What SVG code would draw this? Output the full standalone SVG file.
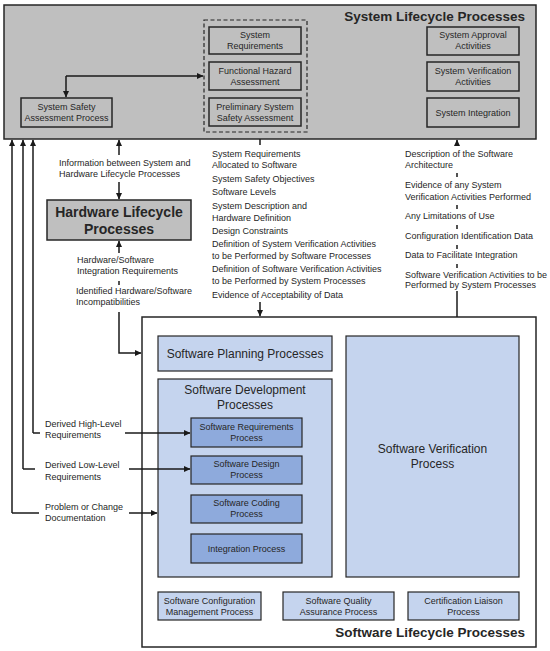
<svg xmlns="http://www.w3.org/2000/svg" width="550" height="651" viewBox="0 0 550 651">
<style>
text{font-family:"Liberation Sans",Arial,sans-serif;fill:#262626}
.s9{font-size:9px}
.s12{font-size:12px}
.c{text-anchor:middle}
.t{font-size:13.5px;font-weight:bold;text-anchor:end}
.gray{fill:#bfbfbf;stroke:#262626;stroke-width:1.5}
.lb{fill:#c5d4ee;stroke:#262626;stroke-width:1.2}
.db{fill:#8eaadc;stroke:#262626;stroke-width:1.2}
.wb{fill:#ffffff;stroke:#262626;stroke-width:1.5}
.ln{fill:none;stroke:#1a1a1a;stroke-width:1.5}
.ar{fill:none;stroke:#1a1a1a;stroke-width:1.5;marker-end:url(#ah)}
</style>
<defs>
<marker id="ah" markerUnits="userSpaceOnUse" markerWidth="7" markerHeight="7" refX="6" refY="3.5" orient="auto">
<path d="M0,0.5 L6.5,3.5 L0,6.5 Z" fill="#1a1a1a"/>
</marker>
</defs>
<rect width="550" height="651" fill="#ffffff"/>

<g id="system-lifecycle">
<rect class="gray" x="4" y="5" width="532" height="134"/>
<text class="t" x="525" y="21">System Lifecycle Processes</text>
<rect x="204" y="20" width="103" height="112" fill="none" stroke="#262626" stroke-width="1.2" stroke-dasharray="4,2.5"/>
</g>
<g id="system-requirements">
<rect class="gray" x="209" y="27" width="92" height="27" stroke-width="1.2"/>
<text class="s9 c" x="255" y="38">System</text>
<text class="s9 c" x="255" y="49">Requirements</text>
</g>
<g id="functional-hazard">
<rect class="gray" x="209" y="62" width="92" height="28" stroke-width="1.2"/>
<text class="s9 c" x="255" y="74">Functional Hazard</text>
<text class="s9 c" x="255" y="85">Assessment</text>
</g>
<g id="preliminary-ssa">
<rect class="gray" x="209" y="98" width="92" height="28" stroke-width="1.2"/>
<text class="s9 c" x="255" y="110">Preliminary System</text>
<text class="s9 c" x="255" y="121">Safety Assessment</text>
</g>
<g id="ssa-process">
<rect class="gray" x="21" y="98" width="91" height="29" stroke-width="1.2"/>
<text class="s9 c" x="66.5" y="110">System Safety</text>
<text class="s9 c" x="66.5" y="121">Assessment Process</text>
</g>
<g id="system-approval">
<rect class="gray" x="427" y="27" width="92" height="28" stroke-width="1.2"/>
<text class="s9 c" x="473" y="38">System Approval</text>
<text class="s9 c" x="473" y="49">Activities</text>
</g>
<g id="system-verification">
<rect class="gray" x="427" y="62" width="92" height="29" stroke-width="1.2"/>
<text class="s9 c" x="473" y="74">System Verification</text>
<text class="s9 c" x="473" y="85">Activities</text>
</g>
<g id="system-integration">
<rect class="gray" x="427" y="98" width="92" height="29" stroke-width="1.2"/>
<text class="s9 c" x="473" y="116">System Integration</text>
</g>

<g id="hardware-lifecycle">
<rect class="gray" x="47" y="200" width="144" height="40"/>
<text x="119" y="217" font-size="14" font-weight="bold" text-anchor="middle">Hardware Lifecycle</text>
<text x="119" y="234" font-size="14" font-weight="bold" text-anchor="middle">Processes</text>
</g>

<g id="software-lifecycle">
<rect class="wb" x="142" y="317" width="394" height="330"/>
<text class="t" x="525" y="637">Software Lifecycle Processes</text>
</g>
<g id="sw-planning">
<rect class="lb" x="158" y="336" width="174" height="35"/>
<text class="s12 c" x="245" y="358">Software Planning Processes</text>
</g>
<g id="sw-development">
<rect class="lb" x="158" y="379" width="174" height="198"/>
<text class="s12 c" x="245" y="394">Software Development</text>
<text class="s12 c" x="245" y="409">Processes</text>
</g>
<g id="sw-requirements">
<rect class="db" x="191" y="418" width="111" height="29"/>
<text class="s9 c" x="246.5" y="430">Software Requirements</text>
<text class="s9 c" x="246.5" y="441">Process</text>
</g>
<g id="sw-design">
<rect class="db" x="191" y="456" width="111" height="28"/>
<text class="s9 c" x="246.5" y="467">Software Design</text>
<text class="s9 c" x="246.5" y="478">Process</text>
</g>
<g id="sw-coding">
<rect class="db" x="191" y="495" width="111" height="28"/>
<text class="s9 c" x="246.5" y="506">Software Coding</text>
<text class="s9 c" x="246.5" y="517">Process</text>
</g>
<g id="integration">
<rect class="db" x="191" y="534" width="111" height="29"/>
<text class="s9 c" x="246.5" y="552">Integration Process</text>
</g>
<g id="sw-verification">
<rect class="lb" x="346" y="336" width="173" height="241"/>
<text class="s12 c" x="432.5" y="453">Software Verification</text>
<text class="s12 c" x="432.5" y="468">Process</text>
</g>
<g id="sw-config">
<rect class="lb" x="158" y="592" width="103" height="28"/>
<text class="s9 c" x="209.5" y="604">Software Configuration</text>
<text class="s9 c" x="209.5" y="615">Management Process</text>
</g>
<g id="sw-quality">
<rect class="lb" x="283" y="592" width="111" height="28"/>
<text class="s9 c" x="338.5" y="604">Software Quality</text>
<text class="s9 c" x="338.5" y="615">Assurance Process</text>
</g>
<g id="cert-liaison">
<rect class="lb" x="408" y="592" width="111" height="28"/>
<text class="s9 c" x="463.5" y="604">Certification Liaison</text>
<text class="s9 c" x="463.5" y="615">Process</text>
</g>

<g id="connectors">
<path class="ar" d="M66,76 L66,97"/>
<path class="ar" d="M66,76 L203,76"/>
<path class="ar" d="M119,155 L119,140"/>
<path class="ar" d="M119,182 L119,199"/>
<path class="ar" d="M119,253 L119,241"/>
<path class="ln" d="M119,281 L119,285"/>
<path class="ar" d="M119,312 L119,353 L141,353"/>
<path class="ln" d="M260,139 L260,145"/>
<path class="ar" d="M260,302 L260,316"/>
<path class="ar" d="M457,145 L457,140"/>
<path class="ln" d="M457,173 L457,177 M457,205 L457,209 M457,225 L457,229 M457,245 L457,249 M457,264 L457,268"/>
<path class="ln" d="M457,291 L457,317"/>
<path class="ar" d="M33,433 L33,140"/>
<path class="ln" d="M33,433 L40,433"/>
<path class="ar" d="M125,433 L190,433"/>
<path class="ar" d="M23,469 L23,140"/>
<path class="ln" d="M23,469 L35,469"/>
<path class="ar" d="M129,469 L190,469"/>
<path class="ar" d="M12,513 L12,140"/>
<path class="ln" d="M12,513 L39,513"/>
<path class="ar" d="M129,513 L157,513"/>
</g>

<g id="labels">
<text class="s9" x="59" y="166">Information between System and</text>
<text class="s9" x="59" y="177">Hardware Lifecycle Processes</text>
<text class="s9" x="77" y="263">Hardware/Software</text>
<text class="s9" x="77" y="274">Integration Requirements</text>
<text class="s9" x="76" y="294">Identified Hardware/Software</text>
<text class="s9" x="76" y="305">Incompatibilities</text>

<text class="s9" x="212" y="157">System Requirements</text>
<text class="s9" x="212" y="168">Allocated to Software</text>
<text class="s9" x="212" y="182">System Safety  Objectives</text>
<text class="s9" x="212" y="195">Software Levels</text>
<text class="s9" x="212" y="209">System Description and</text>
<text class="s9" x="212" y="221">Hardware Definition</text>
<text class="s9" x="212" y="234">Design Constraints</text>
<text class="s9" x="212" y="247">Definition of System Verification Activities</text>
<text class="s9" x="212" y="259">to be Performed by Software Processes</text>
<text class="s9" x="212" y="272">Definition of Software Verification Activities</text>
<text class="s9" x="212" y="284">to be Performed by System Processes</text>
<text class="s9" x="212" y="298">Evidence of Acceptability of Data</text>

<text class="s9" x="405" y="157">Description of the Software</text>
<text class="s9" x="405" y="168">Architecture</text>
<text class="s9" x="405" y="188">Evidence of any System</text>
<text class="s9" x="405" y="200">Verification Activities Performed</text>
<text class="s9" x="405" y="219">Any Limitations of Use</text>
<text class="s9" x="405" y="239">Configuration Identification Data</text>
<text class="s9" x="405" y="258">Data to Facilitate Integration</text>
<text class="s9" x="405" y="278">Software Verification Activities to be</text>
<text class="s9" x="405" y="288">Performed by System Processes</text>

<text class="s9" x="45" y="427">Derived High-Level</text>
<text class="s9" x="45" y="438">Requirements</text>
<text class="s9" x="45" y="468">Derived Low-Level</text>
<text class="s9" x="45" y="480">Requirements</text>
<text class="s9" x="45" y="510">Problem or Change</text>
<text class="s9" x="45" y="521">Documentation</text>
</g>
</svg>
